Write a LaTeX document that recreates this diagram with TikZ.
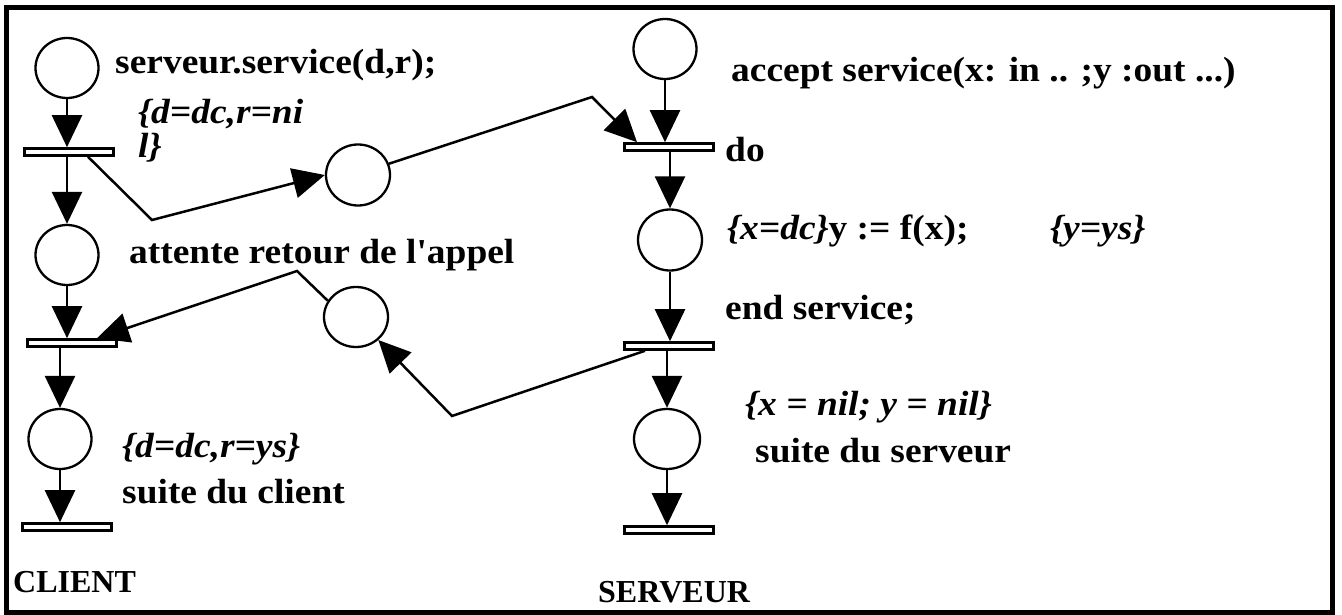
\documentclass[tikz,border=0pt]{standalone}
\usepackage{fontspec}
\setmainfont{Liberation Serif}
\newfontfamily\labfont[FakeStretch=1.07,Ligatures=TeXOff]{Liberation Serif}
\newfontfamily\sidefont[Ligatures=TeXOff]{Liberation Serif}
\usetikzlibrary{arrows.meta,shapes.geometric}

\begin{document}
\begin{tikzpicture}[x=1pt,y=-1pt,
  place/.style={draw,line width=2.3pt,ellipse,minimum width=63pt,minimum height=60pt,inner sep=0pt,fill=white},
  trans/.style={draw,line width=2.6pt,rectangle,minimum width=89pt,minimum height=7pt,inner sep=0pt,fill=white},
  arc/.style={line width=2.5pt,-{Triangle[length=32pt,width=30pt]}},
  lab/.style={anchor=base west,inner sep=0pt,font=\labfont\bfseries\fontsize{35}{37}\selectfont},
  side/.style={anchor=base west,inner sep=0pt,font=\sidefont\bfseries\fontsize{32}{34}\selectfont}]

\useasboundingbox (0,0) rectangle (1342,615);
\draw[line width=5pt] (6,7.5) rectangle (1332,612);

% client
\node[place] (P1) at (67,68) {};
\node[trans] (T1) at (69,152) {};
\node[place] (P2) at (67,255) {};
\node[trans] (T2) at (72,343) {};
\node[place] (P3) at (60,439) {};
\node[trans] (T3) at (67,527) {};

% messages
\node[place,minimum width=64pt,minimum height=61pt] (M1) at (358,175) {};
\node[place,minimum width=64pt,minimum height=60pt] (M2) at (356,317) {};

% server
\node[place] (S1) at (665,49) {};
\node[trans] (Tdo) at (669,147) {};
\node[place,minimum width=64pt,minimum height=61pt] (S2) at (670,240) {};
\node[trans] (Tend) at (669,346) {};
\node[place,minimum width=66pt] (S3) at (667,439) {};
\node[trans] (Tfin) at (669,530) {};

% client flow
\draw[arc] (P1.south) -- (P1.south |- T1.north);
\draw[arc] (P2.north |- T1.south) -- (P2.north);
\draw[arc] (P2.south) -- (P2.south |- T2.north);
\draw[arc] (P3.north |- T2.south) -- (P3.north);
\draw[arc] (P3.south) -- (P3.south |- T3.north);

% server flow
\draw[arc] (S1.south) -- (S1.south |- Tdo.north);
\draw[arc] (S2.north |- Tdo.south) -- (S2.north);
\draw[arc] (S2.south) -- (S2.south |- Tend.north);
\draw[arc] (S3.north |- Tend.south) -- (S3.north);
\draw[arc] (S3.south) -- (S3.south |- Tfin.north);

% call and return
\coordinate (b1) at (152,220);
\coordinate (b2) at (592,97);
\coordinate (b3) at (452,416);
\coordinate (b4) at (297,271);
\draw[arc] ([xshift=19pt]T1.south) -- (b1) -- (M1.west);
\draw[arc] (M1.20) -- (b2) -- ([xshift=-32pt]Tdo.north);
\draw[arc] ([xshift=-24pt]Tend.south) -- (b3) -- (M2);
\draw[arc] (M2.150) -- (b4) -- ([xshift=25pt]T2.north);

% labels
\node[lab] (l1) at (115,74) {serveur.service(d,r);};
\node[lab] (l2) at (138,124) {\itshape \{d=dc,r=ni};
\node[lab] (l3) at (138,158) {\itshape l\}};
\node[lab] (l4) at (129,263) {attente retour de l'appel};
\node[lab] (l5) at (122,457) {\itshape \{d=dc,r=ys\}};
\node[lab] (l6) at (122,503) {suite du client};
\node[side] (l7) at (13,592) {CLIENT};
\node[lab] (l8) at (731,82) {accept service(x: in .. ;y :out ...)};
\node[lab] (l9) at (725,162) {do};
\node[lab] (l10) at (727,240) {\textit{\{x=dc\}}y := f(x);};
\node[lab] (l11) at (1050,240) {\itshape \{y=ys\}};
\node[lab] (l12) at (725,319) {end service;};
\node[lab] (l13) at (745,415) {\itshape \{x = nil; y = nil\}};
\node[lab] (l14) at (755,462) {suite du serveur};
\node[side] (l15) at (598,602) {SERVEUR};
\end{tikzpicture}
\end{document}
